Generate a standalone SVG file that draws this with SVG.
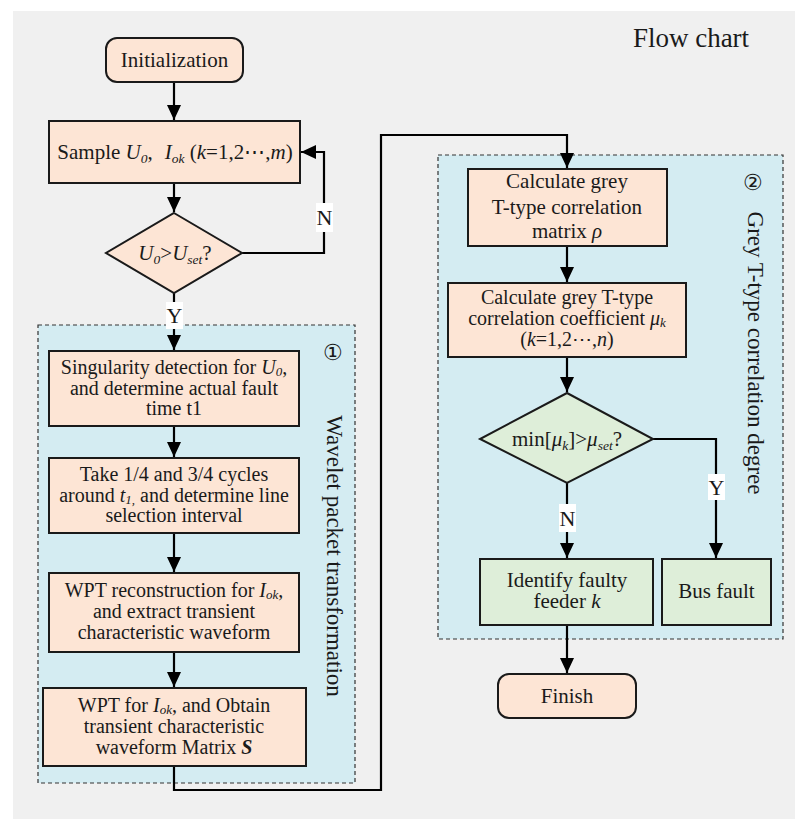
<svg xmlns="http://www.w3.org/2000/svg" width="795" height="819" viewBox="0 0 795 819" font-family="'Liberation Serif', 'DejaVu Serif', serif">
<style>
text{font-family:'Liberation Serif','DejaVu Serif',serif;font-size:20px;fill:#1a1a1a;text-anchor:middle}
.box{fill:#fde5d5;stroke:#1a1a1a;stroke-width:2}
.grn{fill:#deeed9;stroke:#1a1a1a;stroke-width:2}
.panel{fill:#d4ecf2;stroke:#333;stroke-width:1.2;stroke-dasharray:4,3}
.con{fill:none;stroke:#000;stroke-width:2.2}
.lbl{fill:#fff}
.i{font-style:italic}
.sub{font-size:13.5px;font-style:italic}
.sm{font-size:13px;font-style:italic}
.yn{font-size:22px}
</style>
<defs>
<marker id="ah" markerUnits="userSpaceOnUse" markerWidth="16" markerHeight="16" viewBox="0 0 16 16" refX="15" refY="8" orient="auto">
<path d="M0,1 L15,8 L0,15 Z" fill="#000"/>
</marker>
</defs>
<rect x="0" y="0" width="795" height="819" fill="#fff"/>
<rect x="13" y="11" width="782" height="808" fill="#f0f0f0"/>
<text x="691" y="47" style="font-size:27px">Flow chart</text>

<g id="panel1">
<rect class="panel" x="38" y="325" width="317" height="458"/>
<text x="333" y="360" style="font-size:22px">①</text>
<text transform="translate(327,556) rotate(90)" style="font-size:23px">Wavelet packet transformation</text>
</g>
<g id="panel2">
<rect class="panel" x="438" y="155" width="345" height="484"/>
<text x="753" y="190" style="font-size:22px">②</text>
<text transform="translate(748,353) rotate(90)" style="font-size:23px">Grey T-type correlation degree</text>
</g>

<g id="connectors">
<path class="con" d="M174,82 V120" marker-end="url(#ah)"/>
<path class="con" d="M174,183 V212" marker-end="url(#ah)"/>
<path class="con" d="M242,253 H324 V152 H301" marker-end="url(#ah)"/>
<path class="con" d="M174,293 V350" marker-end="url(#ah)"/>
<path class="con" d="M174,426 V457" marker-end="url(#ah)"/>
<path class="con" d="M174,533 V572" marker-end="url(#ah)"/>
<path class="con" d="M174,652 V687" marker-end="url(#ah)"/>
<path class="con" d="M174,766 V790 H381 V135 H567 V168" marker-end="url(#ah)"/>
<path class="con" d="M567,246 V282" marker-end="url(#ah)"/>
<path class="con" d="M567,357 V392" marker-end="url(#ah)"/>
<path class="con" d="M567,483 V558" marker-end="url(#ah)"/>
<path class="con" d="M653,439 H716 V558" marker-end="url(#ah)"/>
<path class="con" d="M567,625 V673" marker-end="url(#ah)"/>
<rect class="lbl" x="316" y="203" width="17" height="29"/>
<text class="yn" x="324.5" y="225">N</text>
<rect class="lbl" x="166" y="302" width="17" height="27"/>
<text class="yn" x="174.5" y="323">Y</text>
<rect class="lbl" x="559" y="504" width="17" height="28"/>
<text class="yn" x="567.5" y="526">N</text>
<rect class="lbl" x="708" y="474" width="17" height="26"/>
<text class="yn" x="716.5" y="495">Y</text>
</g>

<g id="init">
<rect class="box" x="106" y="38" width="137" height="44" rx="11"/>
<text x="174.5" y="67" style="font-size:21px">Initialization</text>
</g>
<g id="sample">
<rect class="box" x="49" y="121" width="251" height="62"/>
<text x="175" y="159" style="font-size:21px">Sample <tspan class="i">U</tspan><tspan class="sub" baseline-shift="-4" font-style="normal">0</tspan>,<tspan class="i" dx="12">I</tspan><tspan class="sub" baseline-shift="-4">ok</tspan> (<tspan class="i">k</tspan>=1,2⋯,<tspan class="i">m</tspan>)</text>
</g>
<g id="check">
<polygon class="box" points="174,213 242,253 174,293 106,253"/>
<text x="175" y="260" style="font-size:21px"><tspan class="i">U</tspan><tspan class="sub" baseline-shift="-4" font-style="normal">0</tspan>&gt;<tspan class="i">U</tspan><tspan class="sub" baseline-shift="-4">set</tspan>?</text>
</g>
<g id="singularity">
<rect class="box" x="49" y="351" width="250" height="75"/>
<text x="174" y="374">Singularity detection for <tspan class="i">U</tspan><tspan class="sm" baseline-shift="-2" font-style="normal">0</tspan>,</text>
<text x="174" y="394.5">and determine actual fault</text>
<text x="174" y="415">time t1</text>
</g>
<g id="cycles">
<rect class="box" x="49" y="458" width="250" height="75"/>
<text x="174" y="481">Take 1/4 and 3/4 cycles</text>
<text x="174" y="501.5">around <tspan class="i">t</tspan><tspan class="sm" baseline-shift="-2">1,</tspan> and determine line</text>
<text x="174" y="522">selection interval</text>
</g>
<g id="wptrec">
<rect class="box" x="49" y="573" width="250" height="79"/>
<text x="174" y="597">WPT reconstruction for <tspan class="i">I</tspan><tspan class="sm" baseline-shift="-2">ok</tspan>,</text>
<text x="174" y="618">and extract transient</text>
<text x="174" y="639">characteristic waveform</text>
</g>
<g id="wpt">
<rect class="box" x="43" y="688" width="263" height="78"/>
<text x="174" y="711.5">WPT for <tspan class="i">I</tspan><tspan class="sm" baseline-shift="-2">ok</tspan>, and Obtain</text>
<text x="174" y="732.5">transient characteristic</text>
<text x="174" y="753.5">waveform Matrix <tspan class="i" font-weight="bold">S</tspan></text>
</g>
<g id="matrix">
<rect class="box" x="468" y="169" width="199" height="77"/>
<text x="567" y="188" style="font-size:21px">Calculate grey</text>
<text x="567" y="214" style="font-size:21px">T-type correlation</text>
<text x="567" y="238" style="font-size:21px">matrix <tspan class="i">ρ</tspan></text>
</g>
<g id="coef">
<rect class="box" x="448" y="283" width="238" height="74"/>
<text x="567" y="304">Calculate grey T-type</text>
<text x="567" y="325">correlation coefficient <tspan class="i">μ</tspan><tspan class="sm" baseline-shift="-2">k</tspan></text>
<text x="567" y="346">(<tspan class="i">k</tspan>=1,2⋯,<tspan class="i">n</tspan>)</text>
</g>
<g id="decide">
<polygon class="grn" points="567,393 653,439 567,483 480,439"/>
<text x="567" y="446" style="font-size:21px">min[<tspan class="i">μ</tspan><tspan class="sub" baseline-shift="-4">k</tspan>]&gt;<tspan class="i">μ</tspan><tspan class="sub" baseline-shift="-4">set</tspan>?</text>
</g>
<g id="feeder">
<rect class="grn" x="480" y="559" width="173" height="66"/>
<text x="567" y="586.5" style="font-size:21px">Identify faulty</text>
<text x="567" y="608" style="font-size:21px">feeder <tspan class="i">k</tspan></text>
</g>
<g id="bus">
<rect class="grn" x="662" y="559" width="109" height="66"/>
<text x="716.5" y="598" style="font-size:21px">Bus fault</text>
</g>
<g id="finish">
<rect class="box" x="498" y="674" width="138" height="44" rx="11"/>
<text x="567" y="703" style="font-size:21px">Finish</text>
</g>
</svg>
